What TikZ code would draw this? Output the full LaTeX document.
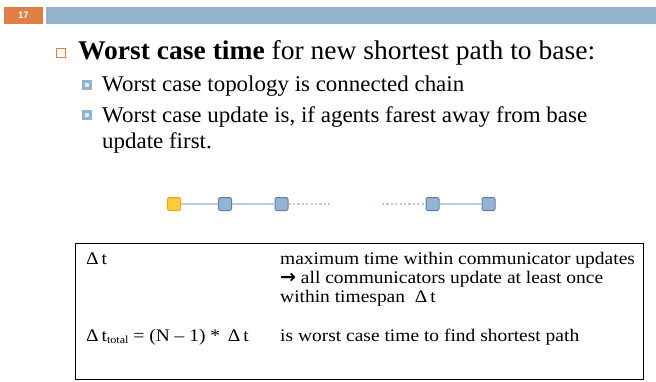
\documentclass[tikz,border=0pt]{standalone}
\usepackage{fontspec}
\setmainfont{Liberation Serif}[FakeStretch=1.02]
\newfontfamily\boxfont{Liberation Serif}[FakeStretch=1.1]
\newfontfamily\hdrfont{Liberation Sans}
\newfontfamily\arrowfont{DejaVu Sans}
\definecolor{orangeC}{HTML}{DF7F45}
\definecolor{blueC}{HTML}{93B3D0}
\definecolor{bulblue}{HTML}{93B3D0}
\definecolor{bulinner}{HTML}{E4ECF5}
\definecolor{yellowF}{HTML}{FFCC33}
\definecolor{yellowD}{HTML}{E6A817}
\definecolor{nodeF}{HTML}{95B3D7}
\definecolor{nodeD}{HTML}{62809E}
\definecolor{linkC}{HTML}{B9CDE2}
\tikzset{
  txt/.style={anchor=base west, inner sep=0pt},
  lvlone/.style={txt, font=\fontsize{27}{32}\selectfont},
  lvltwo/.style={txt, font=\fontsize{22.5}{27}\selectfont},
  boxtxt/.style={txt, font=\boxfont\fontsize{17.7}{19}\selectfont},
  bulone/.style={draw=orangeC, line width=0.9pt, minimum size=9pt, inner sep=0pt},
  bultwo/.style={draw=bulblue, fill=bulinner, line width=2.8pt, minimum size=7.2pt, inner sep=0pt},
  agent/.style={draw=nodeD, fill=nodeF, line width=1pt, minimum size=13pt, inner sep=0pt, rounded corners=2pt},
  baseag/.style={agent, draw=yellowD, fill=yellowF},
  link/.style={draw=linkC, line width=1.4pt},
  dotlink/.style={draw=linkC, line width=1.4pt, dash pattern=on 2.2pt off 2.2pt}
}
\begin{document}
\begin{tikzpicture}[x=1pt,y=-1pt]
\useasboundingbox (0,0) rectangle (656,381);
% header
\node[fill=orangeC, minimum width=39pt, minimum height=17pt, inner sep=0pt, text=white,
      font=\hdrfont\bfseries\fontsize{9.5}{10}\selectfont] (num) at (23.5,15.5) {17};
\node[fill=blueC, minimum width=610pt, minimum height=17pt, inner sep=0pt, anchor=north west] (bar) at (46,7) {};
% bullets and text
\node[bulone] (b1) at (61,53) {};
\node[lvlone] (t1) at (78,59) {\textbf{Worst case time} for new shortest path to base:};
\node[bultwo] (b2) at (87,85) {};
\node[lvltwo] (t2) at (102,91) {Worst case topology is connected chain};
\node[bultwo] (b3) at (87,115) {};
\node[lvltwo] (t3) at (102,122) {Worst case update is, if agents farest away from base};
\node[lvltwo] (t4) at (102,148) {update first.};
% chain
\node[baseag] (n1) at (174,204) {};
\node[agent] (n2) at (225,204) {};
\node[agent] (n3) at (281.5,204) {};
\coordinate (d1) at (331,204);
\coordinate (d2) at (382,204);
\node[agent] (n4) at (432.5,204) {};
\node[agent] (n5) at (488.5,204) {};
\draw[link] (n1) -- (n2);
\draw[link] (n2) -- (n3);
\draw[dotlink] (n3) -- (d1);
\draw[dotlink] (d2) -- (n4);
\draw[link] (n4) -- (n5);
% box
\node[draw, line width=0.8pt, minimum width=568pt, minimum height=136pt, inner sep=0pt, anchor=north west] (box) at (75,243) {};
\node[boxtxt] (l1) at (86,264) {Δ\,t};
\node[boxtxt] (r1) at (280,264) {maximum time within communicator updates};
\node[boxtxt] (r2) at (280,283) {{\arrowfont\bfseries\fontsize{19}{19}\selectfont →} all communicators update at least once};
\node[boxtxt] (r3) at (280,302) {within timespan \ Δ\,t};
\node[boxtxt] (l2) at (86,341) {Δ\,t{\fontsize{11}{12}\selectfont\raisebox{-2.5pt}{total}} = (N – 1) * \,Δ\,t};
\node[boxtxt] (r4) at (280,341) {is worst case time to find shortest path};
\end{tikzpicture}
\end{document}
